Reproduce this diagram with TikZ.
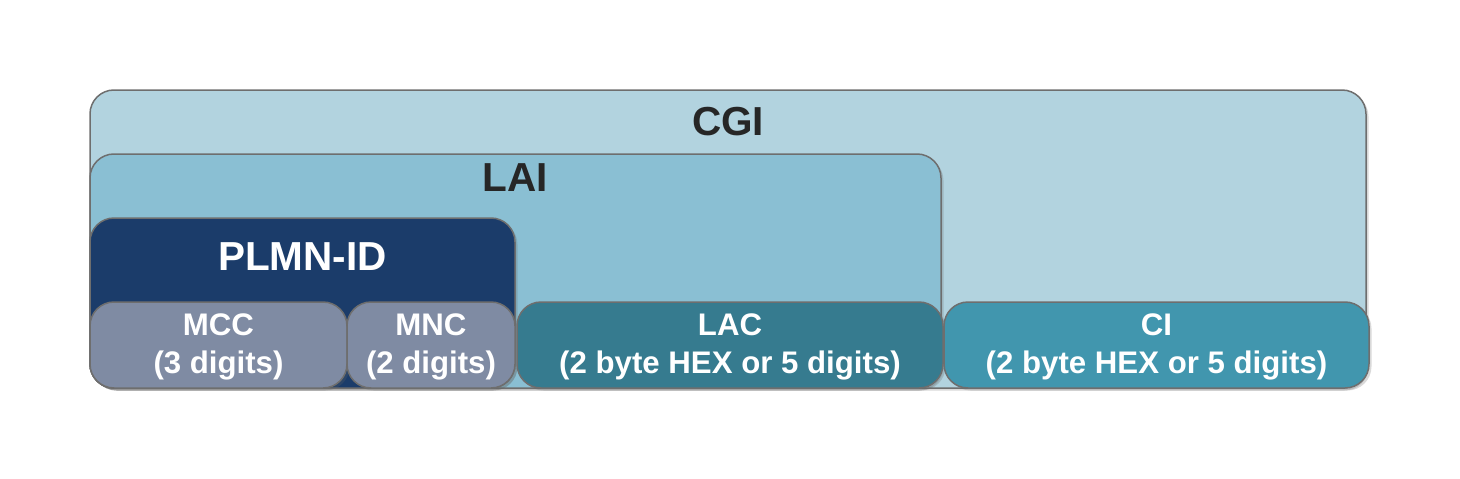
\documentclass[tikz,border=0pt]{standalone}
\usepackage{fontspec}
\setmainfont{Liberation Sans}
\usetikzlibrary{shadows}
\definecolor{cgifill}{HTML}{B2D3DF}
\definecolor{laifill}{HTML}{8ABFD3}
\definecolor{plmnfill}{HTML}{1B3C6A}
\definecolor{mccfill}{HTML}{7F8BA3}
\definecolor{lacfill}{HTML}{367B8F}
\definecolor{cifill}{HTML}{4196AE}
\definecolor{edge}{HTML}{6E6E6E}
\definecolor{darktext}{HTML}{262626}
\tikzset{
  box/.style={draw=edge, line width=1.5pt, rounded corners=24pt, inner sep=0pt, outer sep=0pt,
    drop shadow={shadow xshift=2.5pt, shadow yshift=-2.5pt, opacity=0.25, fill=black!60}},
  bigtitle/.style={font=\fontsize{40.5}{48}\selectfont\bfseries, inner sep=0pt, anchor=base},
  smalltxt/.style={font=\fontsize{31.2}{36}\selectfont\bfseries, text=white, inner sep=0pt, anchor=base}
}
\begin{document}
\begin{tikzpicture}[x=1pt,y=-1pt]
\useasboundingbox (0,0) rectangle (1460,479);
\node[box, fill=cgifill, minimum width=1276pt, minimum height=298pt] (cgi) at (728,239) {};
\node[box, fill=laifill, minimum width=851pt, minimum height=234pt] (lai) at (515.5,271) {};
\node[box, fill=plmnfill, minimum width=425pt, minimum height=170pt] (plmn) at (302.5,303) {};
\node[box, fill=mccfill, minimum width=257pt, minimum height=86pt] (mcc) at (218.5,345) {};
\node[box, fill=mccfill, minimum width=168pt, minimum height=86pt] (mnc) at (431,345) {};
\node[box, fill=lacfill, minimum width=426pt, minimum height=86pt] (lac) at (730,345) {};
\node[box, fill=cifill, minimum width=425pt, minimum height=86pt] (ci) at (1156.5,345) {};

\node[bigtitle, text=darktext] (cgit) at (728,135) {CGI};
\node[bigtitle, text=darktext] (lait) at (515.5,191) {LAI};
\node[bigtitle, text=white] (plmnt) at (302.5,270) {PLMN-ID};

\node[smalltxt] (mcct1) at (218.5,335) {MCC};
\node[smalltxt] (mcct2) at (218.5,373) {(3 digits)};
\node[smalltxt] (mnct1) at (431,335) {MNC};
\node[smalltxt] (mnct2) at (431,373) {(2 digits)};
\node[smalltxt] (lact1) at (730,335) {LAC};
\node[smalltxt] (lact2) at (730,373) {(2 byte HEX or 5 digits)};
\node[smalltxt] (cit1) at (1156.5,335) {CI};
\node[smalltxt] (cit2) at (1156.5,373) {(2 byte HEX or 5 digits)};
\end{tikzpicture}
\end{document}
